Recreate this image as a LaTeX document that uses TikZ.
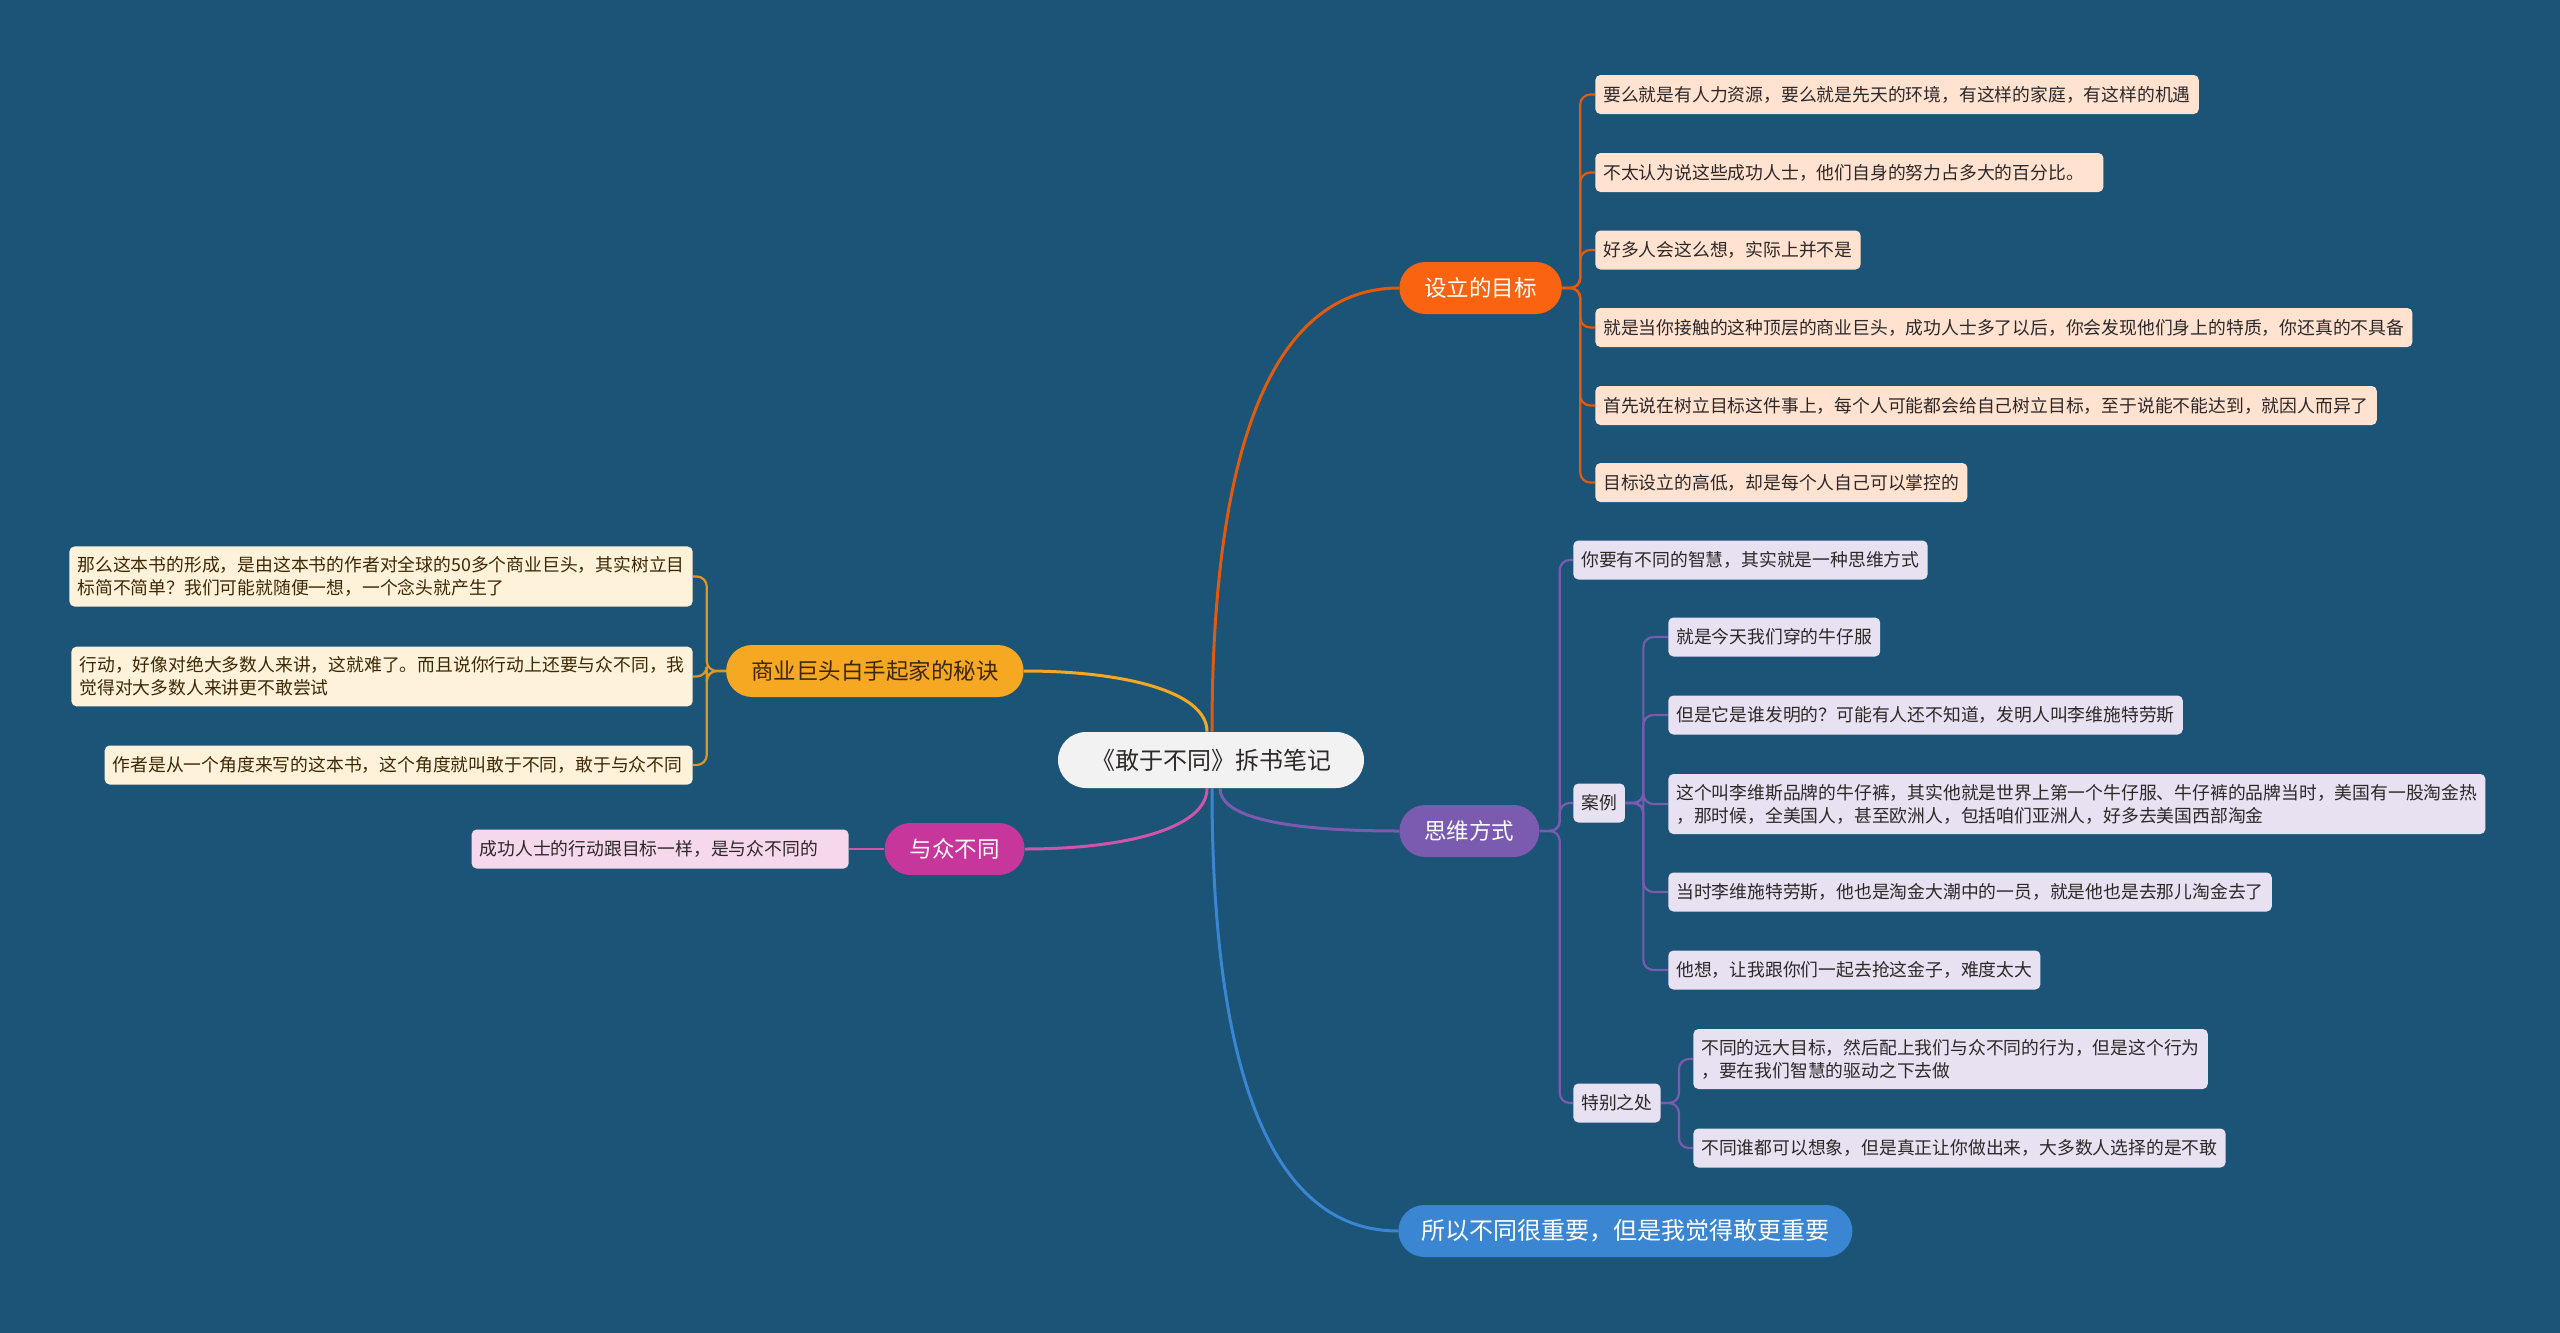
\documentclass[tikz,border=0pt]{standalone}
\usepackage{fontspec}
\setmainfont{Noto Sans CJK SC}
\usetikzlibrary{backgrounds}

\definecolor{bgblue}{RGB}{27,84,118}
\definecolor{rootfill}{RGB}{242,242,242}
\definecolor{goalc}{RGB}{250,100,16}
\definecolor{goalleaf}{RGB}{255,226,208}
\definecolor{wayc}{RGB}{123,91,176}
\definecolor{wayleaf}{RGB}{231,225,241}
\definecolor{darec}{RGB}{58,134,210}
\definecolor{secretc}{RGB}{247,168,35}
\definecolor{secretleaf}{RGB}{255,242,218}
\definecolor{secrettext}{RGB}{60,40,5}
\definecolor{diffc}{RGB}{199,54,155}
\definecolor{diffleaf}{RGB}{246,216,236}
\definecolor{inktext}{RGB}{45,40,40}

\tikzset{every picture/.style={line width=0.75pt}}
\tikzset{
  rootbox/.style={fill=rootfill, rounded corners=28pt, inner xsep=33pt, minimum height=56pt,
    text=inktext, font=\fontsize{24}{28}\selectfont},
  topic/.style={rounded corners=26pt, inner xsep=25pt, minimum height=52pt, text=white,
    font=\fontsize{22.5}{27}\selectfont},
  leaf/.style={rounded corners=5pt, inner xsep=8pt, inner ysep=10pt, minimum height=39pt,
    align=left, text=inktext, font=\fontsize{17.8}{23}\selectfont},
  branch/.style={line width=3pt},
  twig/.style={line width=2.2pt, rounded corners=10pt},
}

\begin{document}
\begin{tikzpicture}[x=1pt,y=1pt,yscale=-1]
\useasboundingbox (0,0) rectangle (2560,1333);

% Root Node
\node (root) at (1211,760) [rootbox] {《敢于不同》拆书笔记};

% Topic Nodes
\node (goal) at (1399,288) [topic, fill=goalc, anchor=west] {设立的目标};
\node (way) at (1399,831) [topic, fill=wayc, anchor=west] {思维方式};
\node (dare) at (1398,1231) [topic, fill=darec, anchor=west, inner xsep=23pt, font=\fontsize{24}{28}\selectfont] {所以不同很重要，但是我觉得敢更重要};
\node (secret) at (1024,671) [topic, fill=secretc, text=secrettext, anchor=east] {商业巨头白手起家的秘诀};
\node (diff) at (1025,849) [topic, fill=diffc, anchor=east] {与众不同};

% Text Node -- goal leaves
\node (g1) at (1595,94.5) [leaf, fill=goalleaf, anchor=west] {要么就是有人力资源，要么就是先天的环境，有这样的家庭，有这样的机遇};
\node (g2) at (1595,172.5) [leaf, fill=goalleaf, anchor=west, text width=492pt] {不太认为说这些成功人士，他们自身的努力占多大的百分比。};
\node (g3) at (1595,250) [leaf, fill=goalleaf, anchor=west] {好多人会这么想，实际上并不是};
\node (g4) at (1595,327.5) [leaf, fill=goalleaf, anchor=west] {就是当你接触的这种顶层的商业巨头，成功人士多了以后，你会发现他们身上的特质，你还真的不具备};
\node (g5) at (1595,405.5) [leaf, fill=goalleaf, anchor=west] {首先说在树立目标这件事上，每个人可能都会给自己树立目标，至于说能不能达到，就因人而异了};
\node (g6) at (1595,482.5) [leaf, fill=goalleaf, anchor=west] {目标设立的高低，却是每个人自己可以掌控的};

% Text Node -- way leaves
\node (w1) at (1573,560) [leaf, fill=wayleaf, anchor=west] {你要有不同的智慧，其实就是一种思维方式};
\node (case) at (1573,803) [leaf, fill=wayleaf, anchor=west] {案例};
\node (special) at (1573,1103) [leaf, fill=wayleaf, anchor=west] {特别之处};

\node (c1) at (1668,637) [leaf, fill=wayleaf, anchor=west] {就是今天我们穿的牛仔服};
\node (c2) at (1668,715) [leaf, fill=wayleaf, anchor=west] {但是它是谁发明的？可能有人还不知道，发明人叫李维施特劳斯};
\node (c3) at (1668,804) [leaf, fill=wayleaf, anchor=west] {这个叫李维斯品牌的牛仔裤，其实他就是世界上第一个牛仔服、牛仔裤的品牌当时，美国有一股淘金热\\，那时候，全美国人，甚至欧洲人，包括咱们亚洲人，好多去美国西部淘金};
\node (c4) at (1668,892) [leaf, fill=wayleaf, anchor=west] {当时李维施特劳斯，他也是淘金大潮中的一员，就是他也是去那儿淘金去了};
\node (c5) at (1668,970) [leaf, fill=wayleaf, anchor=west] {他想，让我跟你们一起去抢这金子，难度太大};

\node (s1) at (1693,1059) [leaf, fill=wayleaf, anchor=west] {不同的远大目标，然后配上我们与众不同的行为，但是这个行为\\，要在我们智慧的驱动之下去做};
\node (s2) at (1693,1148) [leaf, fill=wayleaf, anchor=west] {不同谁都可以想象，但是真正让你做出来，大多数人选择的是不敢};

% Text Node -- secret leaves
\node (k1) at (693,576.5) [leaf, fill=secretleaf, text=secrettext, anchor=east] {那么这本书的形成，是由这本书的作者对全球的50多个商业巨头，其实树立目\\标简不简单？我们可能就随便一想，一个念头就产生了};
\node (k2) at (693,676.5) [leaf, fill=secretleaf, text=secrettext, anchor=east] {行动，好像对绝大多数人来讲，这就难了。而且说你行动上还要与众不同，我\\觉得对大多数人来讲更不敢尝试};
\node (k3) at (693,765) [leaf, fill=secretleaf, text=secrettext, anchor=east, text width=572pt] {作者是从一个角度来写的这本书，这个角度就叫敢于不同，敢于与众不同};

% Text Node -- diff leaf
\node (d1) at (849,849) [leaf, fill=diffleaf, anchor=east, text width=361pt] {成功人士的行动跟目标一样，是与众不同的};

\begin{pgfonlayer}{background}
\fill [bgblue] (0,0) rectangle (2560,1333);

% Main branches
\draw [branch, draw=goalc!90!black] ([xshift=1pt]root.north) .. controls +(0,-300) and +(-120,0) .. (goal.west);
\draw [branch, draw=secretc] ([xshift=-4pt]root.north) .. controls +(0,-40) and +(100,0) .. (secret.east);
\draw [branch, draw=diffc!85!white] ([xshift=-4pt]root.south) .. controls +(0,40) and +(100,0) .. (diff.east);
\draw [branch, draw=wayc] ([xshift=9pt]root.south) .. controls +(0,25) and +(-130,0) .. (way.west);
\draw [branch, draw=darec] ([xshift=1pt]root.south) .. controls +(0,300) and +(-120,0) .. (dare.west);

% Goal twigs
\foreach \n in {g1,g2,g3,g4,g5,g6}
  \draw [twig, draw=goalc!90!black] (goal.east) -- ++(18,0) |- (\n.west);

% Way twigs
\foreach \n in {w1,case,special}
  \draw [twig, draw=wayc] (way.east) -- ++(20,0) |- (\n.west);
\foreach \n in {c1,c2,c3,c4,c5}
  \draw [twig, draw=wayc] (case.east) -- ++(18,0) |- (\n.west);
\foreach \n in {s1,s2}
  \draw [twig, draw=wayc] (special.east) -- ++(18,0) |- (\n.west);

% Secret twigs
\foreach \n in {k1,k2,k3}
  \draw [twig, draw=secretc!90!black] (secret.west) -- ++(-19,0) |- (\n.east);

% Diff twig
\draw [twig, draw=diffc!85!white] (diff.west) -- (d1.east);
\end{pgfonlayer}

\end{tikzpicture}
\end{document}
